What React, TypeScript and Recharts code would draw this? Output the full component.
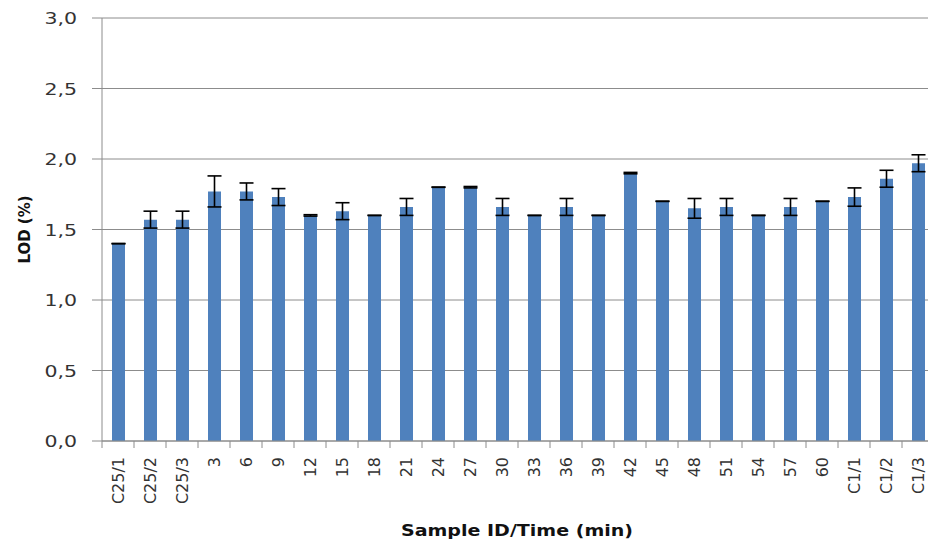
import React from 'react';
import { BarChart, Bar, XAxis, YAxis, CartesianGrid, ErrorBar, Label } from 'recharts';

const categories = ['C25/1','C25/2','C25/3','3','6','9','12','15','18','21','24','27','30','33','36','39','42','45','48','51','54','57','60','C1/1','C1/2','C1/3'];
const lodValues = [1.40,1.57,1.57,1.77,1.77,1.73,1.60,1.63,1.60,1.66,1.80,1.80,1.66,1.60,1.66,1.60,1.90,1.70,1.65,1.66,1.60,1.66,1.70,1.73,1.86,1.97];
const lodErrors = [0.001,0.06,0.06,0.11,0.06,0.06,0.005,0.06,0.001,0.06,0.001,0.005,0.06,0.001,0.06,0.001,0.005,0.001,0.07,0.06,0.001,0.06,0.001,0.065,0.06,0.06];
const yTicks = [0,0.5,1.0,1.5,2.0,2.5,3.0];

const data = categories.map((c, i) => ({ cat: c, lod: lodValues[i], err: lodErrors[i] }));

const FONT = '"DejaVu Sans", Verdana, sans-serif';
const GRID = '#8c8c8c';

const XTick = (props: any) => {
  const { x, y, payload, width, visibleTicksCount } = props;
  const half = payload && payload.offset ? payload.offset : (width / visibleTicksCount) / 2;
  return (
    <g>
      <line x1={x - half} x2={x - half} y1={y} y2={y + 7} stroke={GRID} strokeWidth={1} />
      <text
        transform={`translate(${x + 6},${y + 16}) rotate(-90)`}
        textAnchor="end"
        fontFamily={FONT}
        fontSize={16}
        fill="#333"
      >
        {payload.value}
      </text>
    </g>
  );
};

const YTick = (props: any) => {
  const { x, y, payload } = props;
  return (
    <text
      transform={`translate(${x},${y + 6}) scale(1.28,1)`}
      textAnchor="end"
      fontFamily={FONT}
      fontSize={16}
      fill="#333"
    >
      {payload.value.toFixed(1).replace('.', ',')}
    </text>
  );
};

export default function App() {
  return (
    <div style={{ position: 'fixed', left: 0, top: 0, width: 928, height: 544, overflow: 'hidden', background: '#fff' }}>
      <BarChart width={940} height={544} data={data} margin={{ top: 18, right: 6, bottom: 0, left: 0 }}>
        <CartesianGrid vertical={false} stroke={GRID} strokeWidth={1} />
        <XAxis
          dataKey="cat"
          interval={0}
          height={103}
          tickSize={0}
          tickMargin={0}
          tickLine={false}
          axisLine={{ stroke: GRID, strokeWidth: 1 }}
          tick={<XTick />}
        >
          <Label
            content={(p: any) => {
              const vb = p.viewBox;
              return (
                <text
                  transform={`translate(${vb.x + vb.width / 2 - 1},${vb.y + 95}) scale(1.27,1)`}
                  textAnchor="middle"
                  fontFamily={FONT}
                  fontSize={15}
                  fontWeight="bold"
                  fill="#111"
                >
                  Sample ID/Time (min)
                </text>
              );
            }}
          />
        </XAxis>
        <YAxis
          domain={[0, 3]}
          ticks={yTicks}
          width={102}
          tickSize={10}
          tickMargin={15}
          tickLine={{ stroke: GRID }}
          axisLine={{ stroke: GRID, strokeWidth: 1 }}
          tick={<YTick />}
        >
          <Label
            content={(p: any) => {
              const vb = p.viewBox;
              return (
                <text
                  transform={`translate(30,${vb.y + vb.height / 2}) rotate(-90)`}
                  textAnchor="middle"
                  fontFamily={FONT}
                  fontSize={15}
                  fontWeight="bold"
                  fill="#111"
                >
                  LOD (%)
                </text>
              );
            }}
          />
        </YAxis>
        <Bar dataKey="lod" fill="#4F81BD" barSize={13} isAnimationActive={false}>
          <ErrorBar dataKey="err" direction="y" width={7} stroke="#000" strokeWidth={1.6} isAnimationActive={false} />
        </Bar>
      </BarChart>
    </div>
  );
}
